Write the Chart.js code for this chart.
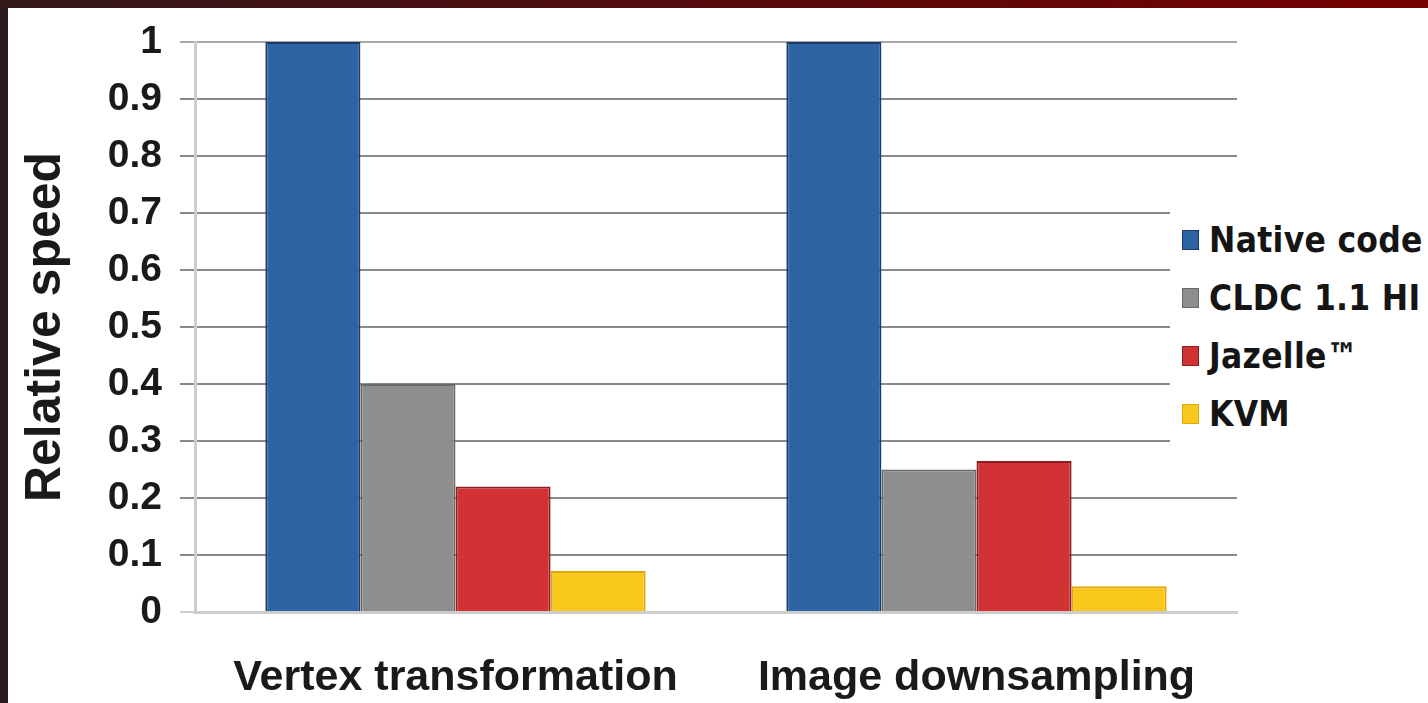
<!DOCTYPE html>
<html>
<head>
<meta charset="utf-8">
<script src="https://cdn.jsdelivr.net/npm/chart.js@4/dist/chart.umd.min.js"></script>
<style>
  html, body { margin: 0; padding: 0; background: #fff; }
  body { width: 1428px; height: 703px; position: relative; overflow: hidden; }
  #edgeLeft { position: absolute; left: 0; top: 0; width: 8px; height: 703px; background: #2c1b1d; }
  #edgeTop { position: absolute; left: 0; top: 0; width: 1428px; height: 8px;
    background: linear-gradient(to right, #33191a, #520c0e 45%, #760000); }
  #wrap { position: absolute; left: 8px; top: 8px; width: 1420px; height: 695px; }
  #legend { position: absolute; left: 1170px; top: 206px; width: 258px; padding: 5px 0 8px 0; background: #fff; }
  .item { height: 58px; display: flex; align-items: center; }
  .swatch { width: 17px; height: 20px; margin-left: 12px; margin-right: 10px; border: 1px solid; box-sizing: border-box; }
  .label { font-family: "DejaVu Sans Condensed", "DejaVu Sans", sans-serif; font-weight: bold;
    font-size: 35px; color: #151515; white-space: nowrap; letter-spacing: 0.3px; }
</style>
</head>
<body>
<div id="edgeLeft"></div>
<div id="edgeTop"></div>
<div id="wrap"><canvas id="myChart" width="1420" height="695"></canvas></div>
<div id="legend"></div>
<script>
// values
const categories = ['Vertex transformation', 'Image downsampling'];
const seriesNames = ['Native code', 'CLDC 1.1 HI', 'Jazelle\u2122', 'KVM'];
const nativeCode = [1, 1];
const cldc = [0.40, 0.25];
const jazelle = [0.22, 0.265];
const kvm = [0.072, 0.045];
const yTickLabels = ['0', '0.1', '0.2', '0.3', '0.4', '0.5', '0.6', '0.7', '0.8', '0.9', '1'];

const fills = ['#2f64a4', '#8e8e8e', '#d23234', '#f8c81c'];
const edges = ['#1b3a63', '#686868', '#8c1d22', '#e2a60e'];

function makeDataset(i, values) {
  return {
    label: seriesNames[i],
    data: values,
    backgroundColor: fills[i],
    borderColor: edges[i],
    borderWidth: 2
  };
}

const data = {
  labels: categories,
  datasets: [
    makeDataset(0, nativeCode),
    makeDataset(1, cldc),
    makeDataset(2, jazelle),
    makeDataset(3, kvm)
  ]
};

const config = {
  type: 'bar',
  data: data,
  options: {
    responsive: false,
    animation: false,
    categoryPercentage: 0.73,
    barPercentage: 1.0,
    layout: { padding: { top: 34, right: 191, bottom: 0, left: 0 } },
    plugins: {
      legend: { display: false },
      tooltip: { enabled: false }
    },
    scales: {
      x: {
        grid: { display: false, drawTicks: false },
        border: { color: '#cdcdcd', width: 3 },
        ticks: {
          color: '#1a1a1a',
          padding: 40,
          font: { family: 'Liberation Sans, Arial, sans-serif', size: 43, weight: 'bold' }
        },
        afterFit: (scale) => { scale.height = 91; }
      },
      y: {
        min: 0,
        max: 1,
        ticks: {
          stepSize: 0.1,
          autoSkip: false,
          padding: 18,
          color: '#1a1a1a',
          font: { family: 'Liberation Sans, Arial, sans-serif', size: 39, weight: 'bold' },
          callback: (value, index) => yTickLabels[index]
        },
        grid: {
          color: (ctx) => (ctx.tick && ctx.tick.value === 0) ? '#cdcdcd' : (ctx.tick && ctx.tick.value === 1 ? '#a6a6a6' : '#8a8a8a'),
          lineWidth: 2,
          tickLength: 15
        },
        border: { color: '#cdcdcd', width: 3 },
        title: {
          display: true,
          text: 'Relative speed',
          color: '#1a1a1a',
          padding: { top: 8, bottom: 0 },
          font: { family: 'Liberation Sans, Arial, sans-serif', size: 50, weight: 'bold' }
        },
        afterFit: (scale) => {
          scale.width = 187;
          // let layout.padding decide where the plot starts
          scale.paddingTop = 0;
          scale.paddingBottom = 0;
        }
      }
    }
  }
};

const myChart = new Chart(document.getElementById('myChart'), config);

// html legend, built from the chart's datasets
const legendEl = document.getElementById('legend');
myChart.data.datasets.forEach((ds) => {
  const row = document.createElement('div');
  row.className = 'item';
  const sw = document.createElement('span');
  sw.className = 'swatch';
  sw.style.background = ds.backgroundColor;
  sw.style.borderColor = ds.borderColor;
  const txt = document.createElement('span');
  txt.className = 'label';
  txt.textContent = ds.label;
  row.appendChild(sw);
  row.appendChild(txt);
  legendEl.appendChild(row);
});
</script>
</body>
</html>
